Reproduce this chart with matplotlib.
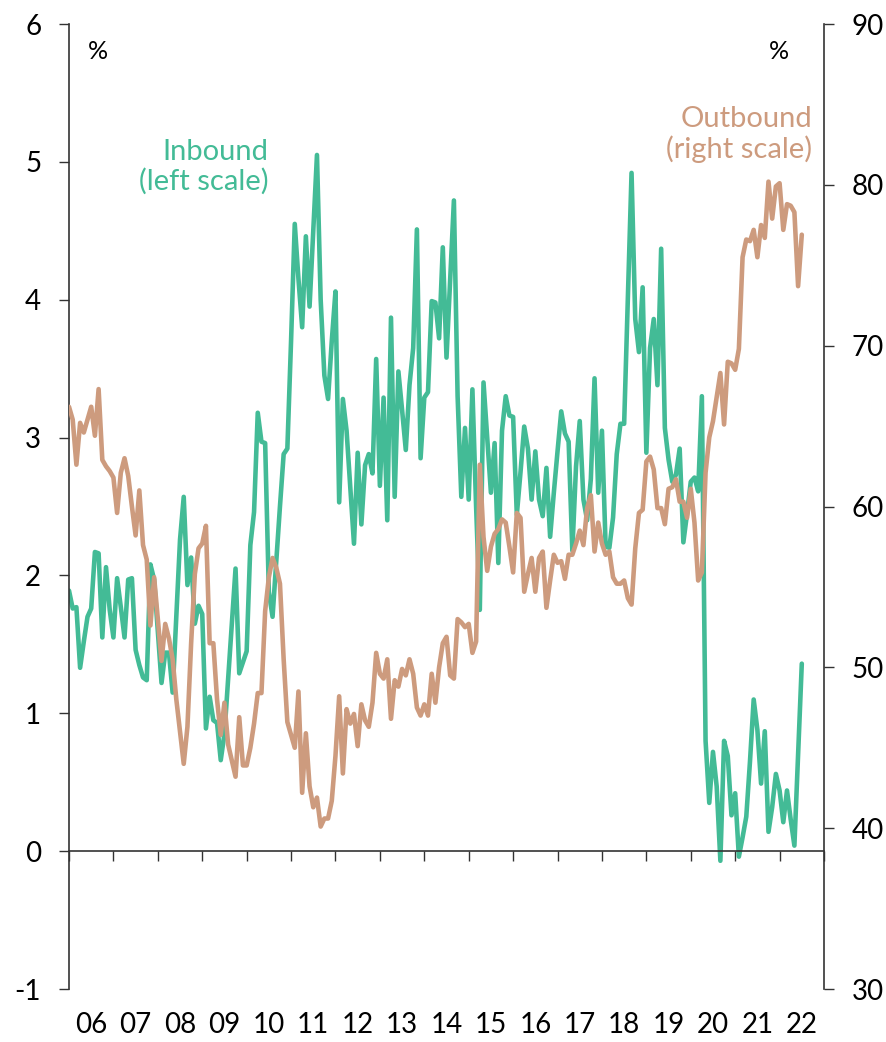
import numpy as np
import matplotlib
matplotlib.use("Agg")
import matplotlib.pyplot as plt
import matplotlib.transforms as mtransforms

plt.rcParams['font.family'] = ['Lato', 'DejaVu Sans']

# monthly data, Jan 2006 - Jul 2022
inbound = [
    # 2006
    1.89, 1.76, 1.77, 1.33, 1.52, 1.70, 1.76, 2.17, 2.16, 1.55, 2.06, 1.75,
    # 2007
    1.55, 1.98, 1.77, 1.55, 1.97, 1.98, 1.46, 1.35, 1.26, 1.24, 2.08, 1.97,
    # 2008
    1.60, 1.22, 1.44, 1.44, 1.15, 1.70, 2.26, 2.57, 1.93, 2.13, 1.65, 1.78,
    # 2009
    1.72, 0.89, 1.12, 0.95, 0.93, 0.66, 0.85, 1.25, 1.65, 2.05, 1.29, 1.37,
    # 2010
    1.45, 2.22, 2.46, 3.18, 2.97, 2.96, 1.88, 1.70, 2.10, 2.50, 2.88, 2.92,
    # 2011
    3.70, 4.55, 4.15, 3.80, 4.46, 3.95, 4.50, 5.05, 4.00, 3.45, 3.28, 3.70,
    # 2012
    4.06, 2.53, 3.28, 3.05, 2.64, 2.23, 2.89, 2.37, 2.80, 2.88, 2.74, 3.57,
    # 2013
    2.65, 3.29, 2.40, 3.87, 2.57, 3.48, 3.20, 2.91, 3.38, 3.65, 4.51, 2.85,
    # 2014
    3.29, 3.33, 3.99, 3.98, 3.72, 4.38, 3.58, 4.15, 4.72, 3.30, 2.57, 3.07,
    # 2015
    2.55, 3.35, 2.50, 1.75, 3.40, 3.00, 2.60, 2.96, 2.09, 3.05, 3.30, 3.16,
    # 2016
    3.15, 2.44, 2.75, 3.08, 2.92, 2.55, 2.90, 2.55, 2.43, 2.78, 2.28, 2.60,
    # 2017
    2.90, 3.19, 3.03, 2.97, 2.18, 2.79, 3.12, 2.55, 2.40, 2.70, 3.43, 2.60,
    # 2018
    3.05, 2.21, 2.20, 2.42, 2.88, 3.10, 3.10, 4.00, 4.92, 3.86, 3.62, 4.09,
    # 2019
    2.89, 3.65, 3.86, 3.38, 4.37, 3.07, 2.84, 2.68, 2.73, 2.92, 2.24, 2.45,
    # 2020
    2.68, 2.71, 2.61, 3.30, 0.80, 0.35, 0.72, 0.47, -0.07, 0.80, 0.69, 0.26,
    # 2021
    0.42, -0.04, 0.10, 0.25, 0.65, 1.10, 0.88, 0.49, 0.87, 0.14, 0.32, 0.56,
    # 2022
    0.44, 0.21, 0.44, 0.23, 0.04, 0.70, 1.36,
]

outbound = [
    # 2006
    66.2, 65.4, 62.6, 65.2, 64.6, 65.4, 66.2, 64.4, 67.3, 62.9, 62.5, 62.2,
    # 2007
    61.8, 59.6, 62.1, 63.0, 61.9, 60.0, 58.2, 61.0, 57.6, 56.7, 52.6, 55.6,
    # 2008
    53.0, 50.4, 52.7, 51.8, 50.5, 48.0, 46.0, 44.0, 46.3, 51.5, 55.8, 57.4,
    # 2009
    57.7, 58.8, 51.5, 51.5, 48.0, 45.8, 47.8, 45.2, 44.2, 43.2, 46.9, 43.9,
    # 2010
    43.9, 45.0, 46.5, 48.4, 48.4, 53.5, 55.6, 56.8, 56.2, 55.2, 50.5, 46.6,
    # 2011
    45.8, 45.0, 48.5, 42.2, 45.9, 42.6, 41.3, 41.9, 40.1, 40.6, 40.6, 41.7,
    # 2012
    44.5, 48.2, 43.4, 47.4, 46.5, 47.1, 45.1, 47.7, 46.7, 46.3, 47.8, 50.9,
    # 2013
    49.6, 49.3, 50.5, 46.8, 49.2, 48.8, 49.9, 49.5, 50.5, 49.6, 47.5, 47.0,
    # 2014
    47.7, 47.0, 49.6, 47.8, 50.0, 51.5, 51.9, 49.5, 49.3, 53.0, 52.8, 52.5,
    # 2015
    52.7, 50.9, 51.6, 62.6, 58.1, 56.0, 57.5, 58.3, 58.6, 59.2, 59.0, 57.5,
    # 2016
    55.9, 59.6, 59.3, 54.7, 55.8, 56.8, 54.7, 56.8, 57.2, 53.7, 55.4, 57.0,
    # 2017
    56.5, 56.6, 55.5, 57.0, 57.0, 57.7, 58.5, 57.6, 59.9, 60.7, 57.2, 59.0,
    # 2018
    57.7, 57.0, 57.2, 55.6, 55.2, 55.2, 55.4, 54.3, 53.9, 57.4, 59.6, 59.8,
    # 2019
    62.8, 63.1, 62.3, 59.9, 59.9, 58.9, 61.1, 61.2, 61.7, 60.3, 60.3, 59.3,
    # 2020
    61.1, 59.0, 55.4, 55.9, 62.1, 64.3, 65.3, 66.8, 68.3, 65.1, 69.0, 68.9,
    # 2021
    68.5, 69.8, 75.5, 76.6, 76.5, 77.2, 75.5, 77.5, 76.7, 80.2, 77.9, 79.9,
    # 2022
    80.1, 77.2, 78.8, 78.7, 78.3, 73.7, 76.9,
]

years = list(range(2006, 2023))
year_labels = ['%02d' % (y % 100) for y in years]
left_ticks = [-1, 0, 1, 2, 3, 4, 5, 6]
right_ticks = [30, 40, 50, 60, 70, 80, 90]

green = '#43BB96'
tan = '#CD9B7E'

# time axis: fractional years
t = 2006 + np.arange(len(inbound)) / 12.0

fig = plt.figure(figsize=(8.86, 10.42), dpi=100)
ax = fig.add_axes([69/886, 1 - 989/1042, (824 - 69)/886, (989 - 24)/1042])
ax2 = ax.twinx()

ax.plot(t, inbound, color=green, lw=3.3, solid_joinstyle='round', solid_capstyle='round')
ax2.plot(t, outbound, color=tan, lw=3.3, solid_joinstyle='round', solid_capstyle='round')

ax.set_xlim(2006, 2023)
ax.set_ylim(-1, 6)
ax2.set_ylim(30, 90)
ax.set_yticks(left_ticks)
ax.set_yticklabels([str(v) for v in left_ticks])
ax2.set_yticks(right_ticks)
ax2.set_yticklabels([str(v) for v in right_ticks])

# spines
for s in ['top', 'right']:
    ax.spines[s].set_visible(False)
for s in ['top', 'left', 'bottom']:
    ax2.spines[s].set_visible(False)
ax.spines['bottom'].set_position(('data', 0))
for sp in [ax.spines['left'], ax.spines['bottom'], ax2.spines['right']]:
    sp.set_color('#333333')
    sp.set_linewidth(1.2)

ax.set_xticks(range(2006, 2024))
ax.tick_params(axis='x', direction='out', length=7, width=1, color='#333333', labelbottom=False)
ax.tick_params(axis='y', direction='out', length=7, width=1, color='#333333',
               labelsize=20, pad=13)
ax2.tick_params(axis='y', direction='out', length=7, width=1, color='#333333',
                labelsize=20, pad=13)

# year labels at mid-year under the plot
trans = mtransforms.blended_transform_factory(ax.transData, ax.transAxes)
for y, lab in zip(years, year_labels):
    ax.text(y + 0.5, -0.037, lab, transform=trans, ha='center', va='center', fontsize=20)

# unit markers
ax.text(0.038, 0.972, '%', transform=ax.transAxes, ha='center', va='center', fontsize=18)
ax.text(0.94, 0.972, '%', transform=ax.transAxes, ha='center', va='center', fontsize=18)

# series labels
ax.text(0.264, 0.852, 'Inbound\n(left scale)', transform=ax.transAxes, ha='right',
        va='center', fontsize=21, color=green, linespacing=1.15)
ax.text(0.984, 0.885, 'Outbound\n(right scale)', transform=ax.transAxes, ha='right',
        va='center', fontsize=21, color=tan, linespacing=1.15)

fig.savefig('out.png', dpi=100)
